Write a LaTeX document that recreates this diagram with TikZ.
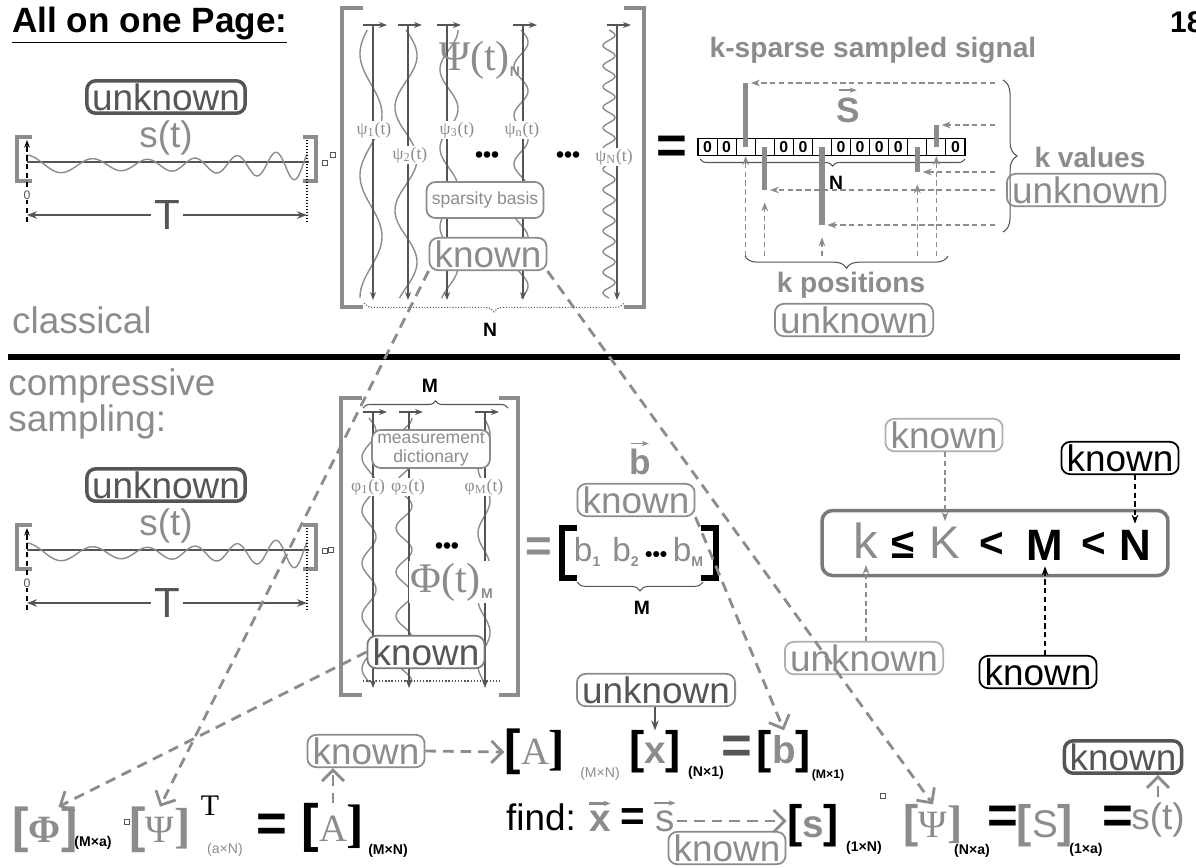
\documentclass[tikz,border=0pt]{standalone}
\usepackage{fontspec}
\setmainfont{Liberation Sans}
\newfontfamily\serf{Liberation Serif}
\usetikzlibrary{arrows.meta, positioning, decorations.pathreplacing, calc}
\definecolor{ink}{HTML}{8C8C8C}
\definecolor{dark}{HTML}{555555}
\definecolor{rim}{HTML}{7A7A7A}
\newcommand{\sqb}[3][28]{{\color{#2}\fontsize{#1}{#1}\selectfont\bfseries[}#3{\color{#2}\fontsize{#1}{#1}\selectfont\bfseries]}}
\newcommand{\tinysub}[1]{\textsubscript{\rmfamily\bfseries\fontsize{8}{8}\selectfont #1}}
\tikzset{
  tag/.style={draw=ink, text=ink, line width=1pt, rounded corners=5pt,
    inner xsep=3pt, inner ysep=1.5pt, font=\fontsize{21}{24}\selectfont},
  tagdark/.style={tag, draw=dark, text=dark, line width=2pt},
  tagblack/.style={tag, draw=black, text=black},
  big/.style={font=\fontsize{21}{24}\selectfont},
  lbl/.style={font=\fontsize{16}{18}\selectfont\bfseries, text=ink},
  dim/.style={font=\fontsize{11}{12}\selectfont\bfseries},
  psi/.style={font=\serf\fontsize{10}{11}\selectfont, text=ink, fill=white, inner sep=0.5pt},
  brack/.style={ink, line width=2.6pt},
  brc/.style={dark, line width=0.6pt},
  wave/.style={ink, line width=0.8pt},
  col/.style={dark, line width=0.8pt, -{Stealth[length=1.6mm]}},
  cell/.style={draw, line width=0.6pt, minimum width=0.381cm, minimum height=0.34cm,
    inner sep=0pt, font=\fontsize{9}{9}\selectfont\bfseries},
  spike/.style={ink, line width=3pt},
  hint/.style={ink, densely dashed, line width=0.7pt, -{Stealth[length=1.8mm]}},
  hintk/.style={hint, black},
  link/.style={ink, line width=1.6pt, dash pattern=on 6pt off 4pt, -{Straight Barb[length=2.2mm]}},
  vecarrow/.style={ink, line width=1pt, -{Stealth[length=1.4mm]}},
  dots/.style={font=\fontsize{13}{13}\selectfont\bfseries},
  glyph/.style={draw=dark, line width=0.3pt, minimum size=0.1cm, inner sep=0pt},
  sub/.style={font=\fontsize{8}{9}\selectfont\bfseries},
  mat/.style={font=\fontsize{22}{22}\selectfont, text=ink, inner sep=0pt},
  eqs/.style={font=\fontsize{30}{30}\selectfont\bfseries},
}

\begin{document}
\begin{tikzpicture}[x=0.02cm, y=-0.02cm]
  \useasboundingbox (0,0) rectangle (1196,867);
  % Title
  \node[font=\fontsize{20}{22}\selectfont\bfseries, anchor=west] (title) at (6,25) {\underline{All on one Page:}};
  \node[font=\fontsize{17}{19}\selectfont\bfseries, anchor=west] (page) at (1164,22) {18};

  % Signals s(t), classical and compressive
  \foreach \yo/\nm in {0/A, 388/B} {
    \node[tagdark] (unk\nm) at (166,97+\yo) {unknown};
    \node[big, text=ink] (s\nm) at (166,138+\yo) {s(t)};
    \draw[brack] (32,137+\yo) -- (17,137+\yo) -- (17,181+\yo) -- (32,181+\yo);
    \draw[brack] (303,137+\yo) -- (316,137+\yo) -- (316,181+\yo) -- (303,181+\yo);
    \draw[dark, line width=1.2pt] (27,162+\yo) -- (309,162+\yo);
    \draw[wave] plot[domain=0:280, samples=160, smooth, variable=\t]
      ({27+\t},{\yo+165-(10-0.08*\t+0.00036*\t*\t)*cos(4.8*\t+0.0098*\t*\t)});
    \draw[black, densely dashed, line width=0.7pt, -{Stealth[length=1.5mm]}] (27,222+\yo) -- (27,140+\yo);
    \draw[black, densely dotted, line width=0.7pt] (307,140+\yo) -- (307,222+\yo);
    \node[font=\fontsize{7}{8}\selectfont, text=dark, fill=white, inner sep=0.5pt] (zero\nm) at (27,195+\yo) {0};
    \draw[dark, line width=0.8pt, {Stealth[length=2mm]}-{Stealth[length=2mm]}] (27,215+\yo) -- (307,215+\yo)
      node[midway, fill=white, font=\fontsize{24}{24}\selectfont, text=dark, inner sep=2pt] (T\nm) {T};
    \node[glyph] (g\nm) at (325,163+\yo) {};
  }

  % Sparsity basis Psi
  \draw[brack] (363,8) -- (342,8) -- (342,307) -- (363,307);
  \draw[brack] (624,8) -- (644,8) -- (644,307) -- (624,307);
  \node[glyph] (gPsi) at (333,155) {};
  \foreach \cx/\wx/\fr/\am/\ph in {373/371/2.2/11/200, 408/406/2.6/11/0, 447/449/3.4/9/90, 523/521/5.5/7/0, 617/609/13/6/0} {
    \draw[wave] plot[domain=30:298, samples=200, smooth, variable=\t] ({\wx+\am*sin(\fr*(\t-30)*1.343+\ph)},{\t});
    \draw[col] (\cx,25) -- (\cx,300);
    \draw[col] (\cx-10,25) -- (\cx+14,25);
  }
  \node[psi] (psi1) at (374,130) {ψ\textsubscript{1}(t)};
  \node[psi] (psi2) at (410,155) {ψ\textsubscript{2}(t)};
  \node[psi] (psi3) at (457,130) {ψ\textsubscript{3}(t)};
  \node[psi] (psin) at (522,130) {ψ\textsubscript{n}(t)};
  \node[psi] (psiN) at (614,157) {ψ\textsubscript{N}(t)};
  \node[font=\serf\fontsize{24}{24}\selectfont, text=ink] (PsiN) at (480,60) {Ψ(t)\tinysub{N}};
  \node[dots] (dotsA) at (487,157) {•••};
  \node[dots] (dotsC) at (568,157) {•••};
  \node[tag, fill=white, font=\fontsize{10}{12}\selectfont, minimum width=2.32cm, minimum height=0.72cm] (spars) at (485,200) {sparsity basis};
  \node[tag, fill=white] (knownPsi) at (488,254) {known};
  \draw[brc, densely dotted, decorate, decoration={brace, mirror, amplitude=5pt}] (364,303) -- (624,303);
  \node[dim] (Nb) at (490,330) {N};

  % k-sparse vector s
  \node[eqs] (eqA) at (672,150) {=};
  \foreach \v [count=\i] in {0,0,{},{},0,0,{},0,0,0,0,{},{},0} {
    \node[cell] (c\i) at ({698+19.07*(\i-0.5)},147) {\v};
  }
  \node[lbl] (ksparse) at (873,50) {k-sparse sampled signal};
  \node[text=ink, font=\fontsize{20}{22}\selectfont\bfseries, inner sep=1pt] (svec) at (848,110) {S};
  \draw[vecarrow] ([xshift=-5pt,yshift=3pt]svec.north) -- ([xshift=5pt,yshift=3pt]svec.north);
  \draw[brc, decorate, decoration={brace, mirror, amplitude=4pt}] (700,159) -- (965,159);
  \node[dim] (Nc) at (836,183) {N};
  \coordinate (rx) at (995,0);
  \coordinate (bx) at (0,256);
  \foreach \c/\h in {3/-64, 13/-22} {
    \draw[spike] (c\c.center) -- ++(0,\h) coordinate (u\c);
    \draw[hint] (u\c -| rx) -- ([xshift=3pt]u\c);
    \draw[hint] (u\c |- bx) -- (c\c.south);
  }
  \foreach \c/\h in {4/43, 7/78, 12/25} {
    \draw[spike] (c\c.center) -- ++(0,\h) coordinate (u\c);
    \draw[hint] (u\c -| rx) -- ([xshift=3pt]u\c);
    \draw[hint] (u\c |- bx) -- ([yshift=-7pt]u\c);
  }
  \draw[brc, decorate, decoration={brace, amplitude=8pt}] (1003,80) -- (1003,232);
  \node[lbl] (kval) at (1090,157) {k values};
  \node[tag] (unkv) at (1086,190) {unknown};
  \draw[brc, decorate, decoration={brace, mirror, amplitude=7pt}] (745,256) -- (948,256);
  \node[lbl] (kpos) at (851,285) {k positions};
  \node[tag] (unkp) at (854,320) {unknown};

  % Separator
  \draw[line width=3pt] (8,357) -- (1180,357);
  \node[big, text=ink, anchor=west] (classical) at (6,320) {classical};
  \node[text=ink, anchor=north west, align=left, inner sep=0pt,
    font=\fontsize{21}{17.6}\selectfont] (compr) at (8,368) {compressive\\sampling:};

  % Measurement dictionary Phi
  \draw[brack] (362,398) -- (341,398) -- (341,695) -- (362,695);
  \draw[brack] (499,398) -- (518,398) -- (518,695) -- (499,695);
  \node[glyph] (gPhi) at (331,550) {};
  \draw[brc, decorate, decoration={brace, amplitude=4pt}] (363,408) -- (508,408);
  \node[dim] (Mt) at (430,386) {M};
  \foreach \cx/\wx/\fr/\am/\ph in {373/369/5/7/0, 409/404/6/8/90, 485/484/4/6/0} {
    \draw[wave] plot[domain=418:682, samples=180, smooth, variable=\t] ({\wx+\am*sin(\fr*(\t-418)*1.364+\ph)},{\t});
    \draw[col] (\cx,412) -- (\cx,688);
    \draw[col] (\cx-10,412) -- (\cx+14,412);
  }
  \node[tag, fill=white, font=\fontsize{10}{11}\selectfont, align=center, minimum width=2.36cm,
    minimum height=0.76cm, inner sep=1pt] (meas) at (431,449) {measurement\\dictionary};
  \node[psi] (phi1) at (368,487) {φ\textsubscript{1}(t)};
  \node[psi] (phi2) at (408,487) {φ\textsubscript{2}(t)};
  \node[psi] (phiM) at (484,487) {φ\textsubscript{M}(t)};
  \node[dots] (dotsB) at (447,548) {•••};
  \node[font=\serf\fontsize{24}{24}\selectfont, text=ink, fill=white, inner sep=1pt] (PhiM) at (452,582) {Φ(t)\tinysub{M}};
  \draw[dark, densely dotted, line width=0.8pt] (363,681) -- (502,681);
  \node[tag, fill=white, text=dark, draw=rim] (knownPhi) at (426,652) {known};

  % Measurements b
  \node[eqs, text=ink, font=\fontsize{26}{26}\selectfont\bfseries] (eqB) at (539,550) {=};
  \draw[brack, black, line width=3pt] (577,528) -- (562,528) -- (562,578) -- (577,578);
  \draw[brack, black, line width=3pt] (701,528) -- (716,528) -- (716,578) -- (701,578);
  \node[font=\fontsize{19}{22}\selectfont, text=ink, inner sep=0pt] (bvec) at (639,552)
    {b\tinysub{1}\,\,b\tinysub{2}\,{\fontsize{12}{12}\selectfont\bfseries\color{black}•••}\,b\tinysub{M}};
  \draw[brc, decorate, decoration={brace, mirror, amplitude=5pt}] (577,582) -- (703,582);
  \node[dim] (Mb) at (642,608) {M};
  \node[text=ink, font=\fontsize{20}{22}\selectfont\bfseries, inner sep=1pt] (bsym) at (640,462) {b};
  \draw[vecarrow] ([xshift=-5pt,yshift=2pt]bsym.north) -- ([xshift=5pt,yshift=2pt]bsym.north);
  \node[tag] (knownb) at (636,500) {known};

  % Inequality
  \node[draw=rim, line width=2pt, rounded corners=6pt, minimum width=6.92cm, minimum height=1.3cm] (ineq) at (995,543) {};
  \node[text=ink, font=\fontsize{28}{28}\selectfont] (kk) at (866,541) {k};
  \node[font=\fontsize{24}{24}\selectfont\bfseries] (le) at (903,545) {≤};
  \node[text=ink, font=\fontsize{26}{26}\selectfont] (KK) at (945,543) {K};
  \node[font=\fontsize{24}{24}\selectfont\bfseries] (lt1) at (992,545) {<};
  \node[font=\fontsize{25}{25}\selectfont\bfseries] (MM) at (1045,545) {M};
  \node[font=\fontsize{24}{24}\selectfont\bfseries] (lt2) at (1094,545) {<};
  \node[font=\fontsize{25}{25}\selectfont\bfseries] (NN) at (1135,545) {N};
  \node[tag, draw=ink!70] (knownK) at (944,435) {known};
  \node[tagblack] (knownN) at (1120,458) {known};
  \node[tag, draw=ink!70] (unkk) at (864,658) {unknown};
  \node[tagblack] (knownM) at (1038,672) {known};
  \draw[hint] (KK.north |- knownK.south) -- (KK.north);
  \draw[hintk] (NN.north |- knownN.south) -- (NN.north);
  \draw[hint] (kk.south |- unkk.north) -- (kk.south);
  \draw[hintk] (MM.south |- knownM.north) -- (MM.south);

  % Phi Psi^T = A
  \node[mat] (Phi) at (45,830) {\sqb{ink}{{\serf\bfseries Φ}}};
  \node[sub] (sPhi) at (93,843) {(M×a)};
  \node[glyph] (g1) at (127,822) {};
  \node[mat] (PsiT) at (160,830) {\sqb{ink}{\serf Ψ}};
  \node[font=\serf\fontsize{17}{17}\selectfont] (Tsup) at (210,806) {T};
  \node[font=\fontsize{8}{9}\selectfont, text=ink] (sPsiT) at (225,850) {(a×N)};
  \node[eqs] (eq1) at (272,828) {=};
  \node[mat] (A1) at (333,828) {\sqb[30]{black}{\serf A}};
  \node[sub] (sA1) at (388,851) {(M×N)};

  % A x = b
  \node[tag] (knownA) at (366,751) {known};
  \node[mat] (A2) at (535,752) {\sqb{black}{\serf A}};
  \node[font=\fontsize{8}{9}\selectfont, text=ink] (sA2) at (600,774) {(M×N)};
  \node[mat] (x2) at (655,752) {\sqb[26]{black}{\bfseries x}};
  \node[sub] (sx2) at (706,773) {(N×1)};
  \node[eqs, text=dark] (eq2) at (737,750) {=};
  \node[mat] (b2) at (784,752) {\sqb[26]{black}{\bfseries b}};
  \node[font=\fontsize{7}{8}\selectfont\bfseries] (sb2) at (828,775) {(M×1)};
  \node[tag, text=dark] (unkx) at (656,690) {unknown};
  \draw[dark, line width=0.8pt, -{Stealth[length=2mm]}] (unkx.south -| x2) -- (x2.north);

  % find x = s
  \node[big] (find) at (541,817) {find:};
  \node[text=ink, font=\fontsize{22}{24}\selectfont\bfseries, inner sep=1pt] (xv) at (600,821) {x};
  \draw[vecarrow, line width=1.3pt] ([xshift=-6pt,yshift=3pt]xv.north) -- ([xshift=6pt,yshift=3pt]xv.north);
  \node[eqs, font=\fontsize{24}{24}\selectfont\bfseries] (eq3) at (633,820) {=};
  \node[text=ink, font=\fontsize{22}{24}\selectfont, inner sep=1pt] (sv) at (665,821) {s};
  \draw[vecarrow] ([xshift=-6pt,yshift=3pt]sv.north) -- ([xshift=6pt,yshift=3pt]sv.north);
  \node[tag] (knowns) at (727,848) {known};
  \node[mat] (s3) at (813,826) {\sqb[26]{black}{\bfseries s}};
  \node[sub] (ss3) at (864,848) {(1×N)};
  \node[glyph] (g2) at (883,796) {};
  \node[mat] (Psi3) at (933,826) {\sqb[26]{ink}{\serf Ψ}};
  \node[sub, inner sep=1pt] (sPsi3) at (972,851) {(N×a)};
  \node[eqs] (eq4) at (1003,820) {=};
  \node[mat] (S3) at (1045,826) {\sqb[26]{ink}{S}};
  \node[sub, inner sep=1pt] (sS3) at (1086,850) {(1×a)};
  \node[eqs] (eq5) at (1118,820) {=};
  \node[big, text=ink] (st3) at (1158,820) {s(t)};
  \node[tagdark] (knownst) at (1123,757) {known};

  % Links between the pieces
  \draw[link] (knownPsi.south west) -- (PsiT.north);
  \draw[link] (knownPsi.south east) -- (Psi3.north);
  \draw[link] (knownPhi.west) -- (Phi.60);
  \draw[link] (knownb.south east) -- (b2.north);
  \draw[link] (A1.north) -- (A1.north |- knownA.south);
  \draw[link] (knownA.east) -- (A2.west);
  \draw[link] (sv.east) -- (sv.east -| s3.west);
  \draw[link] (st3.north) -- (st3.north |- knownst.south);
\end{tikzpicture}
\end{document}
